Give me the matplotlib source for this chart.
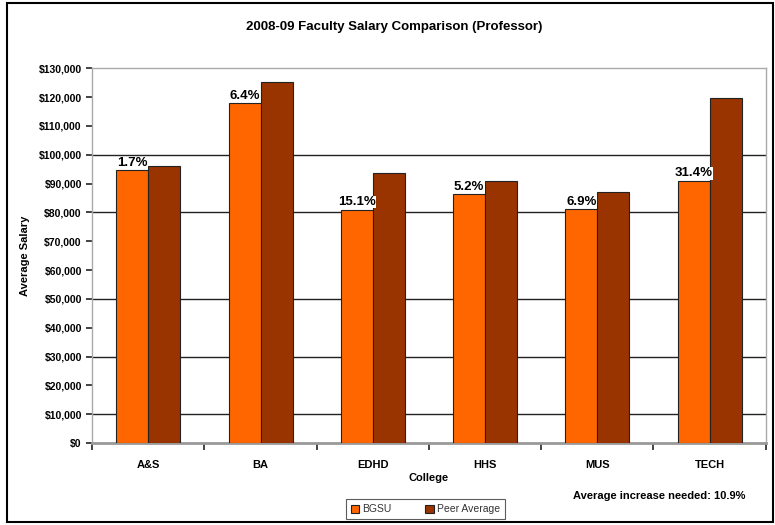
import matplotlib.pyplot as plt
from matplotlib.ticker import FuncFormatter
from matplotlib.patches import Rectangle
import numpy as np

plt.rcParams['font.family'] = ['Liberation Sans', 'DejaVu Sans']

# data
colleges = ['A&S', 'BA', 'EDHD', 'HHS', 'MUS', 'TECH']
bgsu = [94600, 117900, 81000, 86300, 81200, 91000]
peer = [96200, 125400, 93500, 90900, 87100, 119600]
pct_labels = ['1.7%', '6.4%', '15.1%', '5.2%', '6.9%', '31.4%']
grid_vals = [10000, 30000, 50000, 80000, 100000]   # only these lines survive in the original
footnote = 'Average increase needed: 10.9%'

fig = plt.figure(figsize=(7.75, 5.25), dpi=100)
ax = fig.add_axes([0.119, 0.156, 0.869, 0.714])

x = np.arange(len(colleges))
w = 0.285
ax.bar(x - w/2, bgsu, w, color='#FF6600', edgecolor='#222222', linewidth=0.8,
       label='BGSU', zorder=3)
ax.bar(x + w/2, peer, w, color='#993300', edgecolor='#222222', linewidth=0.8,
       label='Peer Average', zorder=3)

for xi, v, t in zip(x, bgsu, pct_labels):
    ax.text(xi - w/2, v + 500, t, ha='center', va='bottom', fontsize=9.5,
            fontweight='bold', color='black', zorder=4,
            bbox=dict(facecolor='white', edgecolor='none', pad=0.2))

for g in grid_vals:
    ax.axhline(g, color='#222222', linewidth=1.0, zorder=1)

ax.set_xlim(-0.5, len(colleges) - 0.5)
ax.set_ylim(0, 130000)
ax.set_yticks(np.arange(0, 130001, 10000))
ax.yaxis.set_major_formatter(FuncFormatter(lambda v, p: '${:,.0f}'.format(v)))
ax.set_xticks(x)
ax.set_xticklabels(colleges, fontsize=8, fontweight='bold')
ax.set_xticks(np.arange(-0.5, len(colleges)), minor=True)
ax.tick_params(axis='x', which='major', length=0, pad=12)
ax.tick_params(axis='x', which='minor', length=5, width=1.2, color='#222222')
ax.tick_params(axis='y', length=4, width=1.2, color='#222222', labelsize=7.5)
for lab in ax.get_yticklabels():
    lab.set_fontweight('bold')

for s in ['top', 'right', 'left']:
    ax.spines[s].set_color('#aaaaaa')
    ax.spines[s].set_linewidth(1.0)
ax.spines['bottom'].set_color('#999999')
ax.spines['bottom'].set_linewidth(2.0)

ax.set_xlabel('College', fontsize=8, fontweight='bold', labelpad=2)
ax.set_ylabel('Average Salary', fontsize=8, fontweight='bold', labelpad=6)

fig.text(0.508, 0.948, '2008-09 Faculty Salary Comparison (Professor)',
         ha='center', va='center', fontsize=9.5, fontweight='bold')

leg = fig.legend(loc='center', bbox_to_anchor=(0.549, 0.03), ncol=2,
                 fontsize=7.5, frameon=True, fancybox=False, edgecolor='#333333',
                 handlelength=0.8, handleheight=0.8, handletextpad=0.3,
                 columnspacing=3.2, borderpad=0.5, borderaxespad=0)
leg.get_frame().set_linewidth(0.8)
for t in leg.get_texts():
    t.set_color('#333333')

fig.text(0.85, 0.055, footnote, ha='center', va='center', fontsize=8,
         fontweight='bold')

# outer border round the chart
fig.patches.append(Rectangle((0.009, 0.006), 0.988, 0.988, transform=fig.transFigure,
                             fill=False, edgecolor='black', linewidth=1.5))

plt.savefig('out.png', dpi=100)
